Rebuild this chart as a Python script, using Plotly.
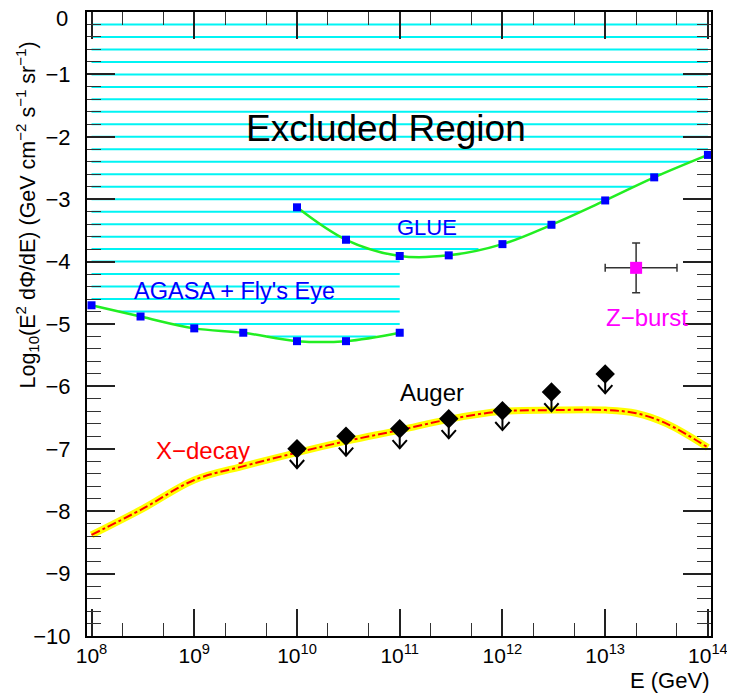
import numpy as np
import plotly.graph_objects as go

# ---------------- data ----------------
agasa_E = [1e8, 3e8, 1e9, 3e9, 1e10, 3e10, 1e11]
agasa_F = [-4.70, -4.88, -5.07, -5.14, -5.275, -5.275, -5.14]

glue_E = [1e10, 3e10, 1e11, 3e11, 1e12, 3e12, 1e13, 3e13, 1e14]
glue_F = [-3.13, -3.65, -3.91, -3.90, -3.72, -3.41, -3.02, -2.65, -2.29]

xdecay_E = [1e8, 3.16e8, 1e9, 3.16e9, 1e10, 3.16e10, 1e11, 3.16e11, 1e12,
            3.16e12, 1e13, 2e13, 4e13, 1e14]
xdecay_F = [-8.38, -7.96, -7.50, -7.27, -7.06, -6.87, -6.70, -6.52, -6.40,
            -6.38, -6.38, -6.43, -6.60, -6.98]

auger_E = [1e10, 3e10, 1e11, 3e11, 1e12, 3e12, 1e13]
auger_F = [-7.0, -6.8, -6.68, -6.52, -6.39, -6.09, -5.8]

zb_E = [2e13]
zb_E_lo = [1e13]
zb_E_hi = [5e13]
zb_F = [-4.1]
zb_F_lo = [-4.5]
zb_F_hi = [-3.7]

hatch_step = 0.2
x_tick_exp = [8, 9, 10, 11, 12, 13, 14]
x_tick_text = ["10<sup>%d</sup>" % e for e in x_tick_exp]
y_tick_vals = [0, -1, -2, -3, -4, -5, -6, -7, -8, -9, -10]
# the top label ("0") is drawn as an annotation so it is not clipped at the page top
y_tick_text = ["" if v == 0 else "\u2212%d" % -v for v in y_tick_vals]

# ---------------- hatching of the excluded region ----------------
la = np.log10(agasa_E)
lg = np.log10(glue_E)
lx = np.linspace(np.log10(agasa_E[0]), np.log10(glue_E[-1]), 6001)
ya = np.interp(lx, la, agasa_F)
yg = np.interp(lx, lg, glue_F)
hx, hy = [], []
levels = -hatch_step * np.arange(1, 60)
for lev in levels:
    inside = ((lx <= la[-1]) & (lev > ya)) | ((lx >= lg[0]) & (lev > yg))
    if not inside.any():
        continue
    idx = np.where(inside)[0]
    breaks = np.where(np.diff(idx) > 1)[0]
    starts = np.r_[idx[0], idx[breaks + 1]]
    ends = np.r_[idx[breaks], idx[-1]]
    for s, e in zip(starts, ends):
        hx += [10 ** lx[s], 10 ** lx[e], None]
        hy += [lev, lev, None]

# ---------------- arrows for Auger limits ----------------
ax_, ay_ = [], []
for E, F in zip(auger_E, auger_F):
    ax_ += [E, E, None, E * 10 ** -0.07, E, E * 10 ** 0.07, None]
    ay_ += [F, F - 0.31, None, F - 0.18, F - 0.31, F - 0.18, None]

fig = go.Figure()
fig.add_trace(go.Scatter(x=hx, y=hy, mode="lines",
                         line=dict(color="#00f4f4", width=2), hoverinfo="skip"))
fig.add_trace(go.Scatter(x=agasa_E, y=agasa_F, mode="lines+markers",
                         line=dict(color="#22ee22", width=2.5, shape="spline"),
                         marker=dict(symbol="square", size=8, color="#0000ff")))
fig.add_trace(go.Scatter(x=glue_E, y=glue_F, mode="lines+markers",
                         line=dict(color="#22ee22", width=2.5, shape="spline"),
                         marker=dict(symbol="square", size=8, color="#0000ff")))
fig.add_trace(go.Scatter(x=xdecay_E, y=xdecay_F, mode="lines",
                         line=dict(color="#ffff00", width=7, shape="spline")))
fig.add_trace(go.Scatter(x=xdecay_E, y=xdecay_F, mode="lines",
                         line=dict(color="#ff0000", width=2, shape="spline",
                                   dash="dashdot")))
fig.add_trace(go.Scatter(x=ax_, y=ay_, mode="lines",
                         line=dict(color="black", width=2)))
fig.add_trace(go.Scatter(x=auger_E, y=auger_F, mode="markers",
                         marker=dict(symbol="diamond", size=15, color="black")))
fig.add_trace(go.Scatter(
    x=zb_E, y=zb_F, mode="markers",
    marker=dict(symbol="square", size=12, color="#ff00ff"),
    error_x=dict(type="data", symmetric=False,
                 array=[h - c for h, c in zip(zb_E_hi, zb_E)],
                 arrayminus=[c - l for l, c in zip(zb_E_lo, zb_E)],
                 color="#333333", thickness=1.5, width=4),
    error_y=dict(type="data", symmetric=False,
                 array=[h - c for h, c in zip(zb_F_hi, zb_F)],
                 arrayminus=[c - l for l, c in zip(zb_F_lo, zb_F)],
                 color="#333333", thickness=1.5, width=4)))

FONT = "Liberation Sans"
fig.update_layout(
    width=727, height=686,
    margin=dict(l=79, r=24, t=4, b=58, autoexpand=False),
    paper_bgcolor="white", plot_bgcolor="white",
    showlegend=False,
    font=dict(family=FONT, color="black", size=22),
)
fig.update_xaxes(
    type="log", range=[7.956, 14.03], automargin=False,
    tickvals=[10 ** v for v in x_tick_exp], ticktext=x_tick_text,
    ticks="inside", ticklen=27, tickwidth=1.5, tickcolor="#222",
    minor=dict(ticks="inside", ticklen=13, tickwidth=1.2, tickcolor="#333",
               showgrid=False),
    showline=True, linewidth=2, linecolor="black", mirror="ticks",
    showgrid=False, zeroline=False, ticklabeloverflow="allow",
    tickfont=dict(size=21, family=FONT),
)
fig.update_yaxes(
    range=[-10, 0], automargin=False,
    tickvals=y_tick_vals, ticktext=y_tick_text,
    ticks="inside", ticklen=28, tickwidth=1.5, tickcolor="#222",
    minor=dict(ticks="inside", ticklen=14, tickwidth=1.2, tickcolor="#333",
               dtick=0.2, tick0=0, showgrid=False),
    showline=True, linewidth=2, linecolor="black", mirror="ticks",
    showgrid=False, zeroline=False, ticklabelstandoff=10,
    ticklabeloverflow="allow",
    tickfont=dict(size=22, family=FONT),
)

# top y tick label
fig.add_annotation(x=-0.027, y=y_tick_vals[0], xref="paper", yref="y",
                   text=str(y_tick_vals[0]), showarrow=False, yshift=-6,
                   font=dict(size=22, family=FONT), xanchor="right", yanchor="middle")

def label(text, lx_, y, color, size):
    fig.add_annotation(x=lx_, y=y, xref="x", yref="y", text=text,
                       showarrow=False, font=dict(color=color, size=size, family=FONT),
                       xanchor="center", yanchor="middle")

label("Excluded Region", 10.866, -1.86, "black", 37)
label("GLUE", 11.27, -3.46, "#0000ff", 22)
label("AGASA + Fly's Eye", 9.39, -4.47, "#0000ff", 23.5)
label("Auger", 11.31, -6.09, "black", 24)
label("X\u2212decay", 9.085, -7.02, "#ff0000", 24)
label("Z\u2212burst", 13.405, -4.89, "#ff00ff", 24)

fig.add_annotation(
    x=-0.096, y=0.674, xref="paper", yref="paper", textangle=-90,
    text="Log<sub>10</sub>(E<sup>2</sup> d\u03a6/dE) (GeV cm<sup>\u22122</sup> s<sup>\u22121</sup> sr<sup>\u22121</sup>)",
    showarrow=False, font=dict(size=21.5, family=FONT), xanchor="center", yanchor="middle")
fig.add_annotation(
    x=1.0, y=-0.072, xref="paper", yref="paper", text="E (GeV)",
    showarrow=False, font=dict(size=22, family=FONT), xanchor="right", yanchor="middle")

fig.write_html("out.html")
